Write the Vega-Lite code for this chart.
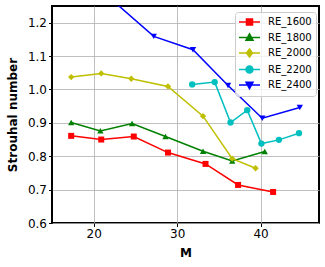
{
  "$schema": "https://vega.github.io/schema/vega-lite/v6.json",
  "width": 267,
  "height": 217,
  "autosize": "none",
  "padding": {"left": 52, "top": 6, "right": 6, "bottom": 44},
  "background": "white",
  "data": {"values": [
    {"series": "RE_1600", "M": 17.3, "St": 0.861},
    {"series": "RE_1600", "M": 20.9, "St": 0.850},
    {"series": "RE_1600", "M": 24.8, "St": 0.859},
    {"series": "RE_1600", "M": 28.9, "St": 0.811},
    {"series": "RE_1600", "M": 33.4, "St": 0.777},
    {"series": "RE_1600", "M": 37.3, "St": 0.714},
    {"series": "RE_1600", "M": 41.5, "St": 0.693},
    {"series": "RE_1800", "M": 17.3, "St": 0.901},
    {"series": "RE_1800", "M": 20.8, "St": 0.876},
    {"series": "RE_1800", "M": 24.6, "St": 0.898},
    {"series": "RE_1800", "M": 28.6, "St": 0.859},
    {"series": "RE_1800", "M": 33.1, "St": 0.815},
    {"series": "RE_1800", "M": 36.6, "St": 0.786},
    {"series": "RE_1800", "M": 40.5, "St": 0.814},
    {"series": "RE_2000", "M": 17.3, "St": 1.037},
    {"series": "RE_2000", "M": 20.9, "St": 1.048},
    {"series": "RE_2000", "M": 24.5, "St": 1.032},
    {"series": "RE_2000", "M": 28.9, "St": 1.009},
    {"series": "RE_2000", "M": 33.1, "St": 0.920},
    {"series": "RE_2000", "M": 36.6, "St": 0.793},
    {"series": "RE_2000", "M": 39.4, "St": 0.764},
    {"series": "RE_2200", "M": 31.8, "St": 1.015},
    {"series": "RE_2200", "M": 34.5, "St": 1.022},
    {"series": "RE_2200", "M": 36.4, "St": 0.901},
    {"series": "RE_2200", "M": 38.4, "St": 0.938},
    {"series": "RE_2200", "M": 40.1, "St": 0.838},
    {"series": "RE_2200", "M": 42.2, "St": 0.849},
    {"series": "RE_2200", "M": 44.6, "St": 0.869},
    {"series": "RE_2400", "M": 22.8, "St": 1.255},
    {"series": "RE_2400", "M": 27.2, "St": 1.159},
    {"series": "RE_2400", "M": 31.9, "St": 1.119},
    {"series": "RE_2400", "M": 36.1, "St": 1.012},
    {"series": "RE_2400", "M": 40.2, "St": 0.914},
    {"series": "RE_2400", "M": 44.7, "St": 0.946}
  ]},
  "encoding": {
    "x": {
      "field": "M", "type": "quantitative",
      "scale": {"domain": [15, 47], "nice": false, "zero": false},
      "axis": {"title": "M", "values": [20, 30, 40], "titlePadding": 8}
    },
    "y": {
      "field": "St", "type": "quantitative",
      "scale": {"domain": [0.6, 1.25], "nice": false, "zero": false},
      "axis": {"title": "Strouhal number", "values": [0.6, 0.7, 0.8, 0.9, 1.0, 1.1, 1.2], "format": ".1f", "titlePadding": 8}
    },
    "color": {
      "field": "series", "type": "nominal",
      "scale": {
        "domain": ["RE_1600", "RE_1800", "RE_2000", "RE_2200", "RE_2400"],
        "range": ["#ff0000", "#008000", "#bfbf00", "#00bfbf", "#0000ff"]
      },
      "legend": {"title": null}
    }
  },
  "layer": [
    {"mark": {"type": "line", "strokeWidth": 1.5, "clip": true}},
    {"transform": [{"filter": "datum.series === 'RE_1600'"}],
     "mark": {"type": "point", "shape": "square", "filled": true, "size": 36, "opacity": 1, "clip": true}},
    {"transform": [{"filter": "datum.series === 'RE_1800'"}],
     "mark": {"type": "point", "shape": "triangle-up", "filled": true, "size": 40, "opacity": 1, "clip": true}},
    {"transform": [{"filter": "datum.series === 'RE_2000'"}],
     "mark": {"type": "point", "shape": "diamond", "filled": true, "size": 40, "opacity": 1, "clip": true}},
    {"transform": [{"filter": "datum.series === 'RE_2200'"}],
     "mark": {"type": "point", "shape": "circle", "filled": true, "size": 40, "opacity": 1, "clip": true}},
    {"transform": [{"filter": "datum.series === 'RE_2400'"}],
     "mark": {"type": "point", "shape": "triangle-down", "filled": true, "size": 40, "opacity": 1, "clip": true}},
    {"transform": [{"filter": "datum.M < 0"}],
     "mark": {"type": "point", "filled": true, "strokeWidth": 1.5, "opacity": 1, "clip": true},
     "encoding": {
       "shape": {
         "field": "series", "type": "nominal",
         "scale": {
           "domain": ["RE_1600", "RE_1800", "RE_2000", "RE_2200", "RE_2400"],
           "range": [
             "M-1.2,0H3M0.3,-0.6H1.5V0.6H0.3Z",
             "M-1.2,0H3M0.9,-0.75L1.6,0.55H0.2Z",
             "M-1.2,0H3M0.9,-0.8L1.5,0L0.9,0.8L0.3,0Z",
             "M-1.2,0H3M1.6,0A0.7,0.7,0,1,1,0.2,0A0.7,0.7,0,1,1,1.6,0Z",
             "M-1.2,0H3M0.9,0.75L1.6,-0.55H0.2Z"
           ]
         },
         "legend": {"title": null}
       },
       "stroke": {
         "field": "series", "type": "nominal",
         "scale": {
           "domain": ["RE_1600", "RE_1800", "RE_2000", "RE_2200", "RE_2400"],
           "range": ["#ff0000", "#008000", "#bfbf00", "#00bfbf", "#0000ff"]
         },
         "legend": {"title": null}
       }
     }}
  ],
  "config": {
    "font": "DejaVu Sans",
    "view": {"stroke": "black", "strokeWidth": 2},
    "legend": {
      "orient": "none",
      "legendX": 183,
      "legendY": 6,
      "symbolSize": 100,
      "symbolStrokeWidth": 1.5,
      "rowPadding": 2.5,
      "padding": 4,
      "labelOffset": 17,
      "labelFontSize": 10,
      "labelFont": "DejaVu Sans",
      "labelColor": "black",
      "fillColor": "rgba(255,255,255,0.8)",
      "strokeColor": "#cccccc",
      "cornerRadius": 3
    },
    "axis": {
      "domain": false,
      "grid": true,
      "gridColor": "#b0b0b0",
      "gridWidth": 0.8,
      "gridOpacity": 1,
      "ticks": true,
      "tickColor": "black",
      "tickSize": 3.5,
      "tickWidth": 1,
      "labelFont": "DejaVu Sans",
      "labelFontSize": 12,
      "labelColor": "black",
      "labelPadding": 2,
      "titleFont": "DejaVu Sans",
      "titleFontSize": 12,
      "titleFontWeight": "bold",
      "titleColor": "black"
    }
  }
}
